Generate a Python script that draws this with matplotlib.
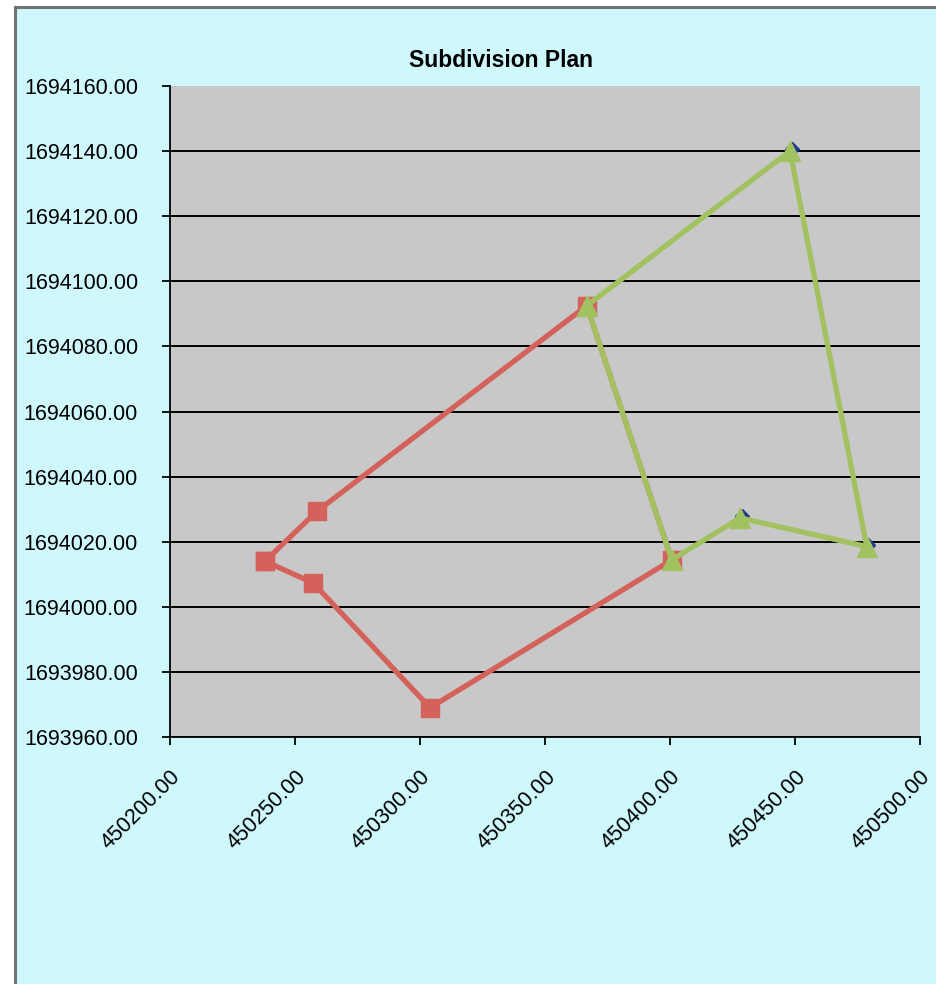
import matplotlib
matplotlib.use("Agg")
import matplotlib.pyplot as plt
from matplotlib.lines import Line2D
from matplotlib.patches import Rectangle
from matplotlib.transforms import ScaledTranslation

plt.rcParams['font.family'] = ['Liberation Sans', 'DejaVu Sans']

# lot 1 (red squares), closed polygon
lot1_x = [450238.0, 450258.7, 450366.7, 450400.7, 450304.0, 450257.3, 450238.0]
lot1_y = [1694014.0, 1694029.3, 1694092.5, 1694014.4, 1693969.0, 1694007.3, 1694014.0]

# lot 2 (green triangles), closed polygon
lot2_x = [450366.7, 450448.0, 450478.7, 450428.0, 450400.7, 450366.7]
lot2_y = [1694092.5, 1694140.0, 1694018.5, 1694027.3, 1694014.4, 1694092.5]

# hidden series mostly behind the green markers
base_x = [450448.6, 450428.6, 450479.3]
base_y = [1694140.6, 1694027.8, 1694019.0]

xticks = [450200, 450250, 450300, 450350, 450400, 450450, 450500]
yticks = [1693960, 1693980, 1694000, 1694020, 1694040, 1694060,
          1694080, 1694100, 1694120, 1694140, 1694160]

bg = '#CFF8FD'
fig = plt.figure(figsize=(9.36, 9.84), dpi=100, facecolor=bg)

# white margin and grey frame at top / left
fig.add_artist(Rectangle((0, 0), 14.5 / 936, 1, transform=fig.transFigure,
                         facecolor='white', edgecolor='none', zorder=0))
fig.add_artist(Rectangle((0, 1 - 7 / 984), 1, 7 / 984, transform=fig.transFigure,
                         facecolor='white', edgecolor='none', zorder=0))
fig.add_artist(Line2D([14.5 / 936, 1], [1 - 7 / 984, 1 - 7 / 984],
                      transform=fig.transFigure, color='#6E7474', lw=2.2))
fig.add_artist(Line2D([14.5 / 936, 14.5 / 936], [0, 1 - 7 / 984],
                      transform=fig.transFigure, color='#6E7474', lw=2.2))

ax = fig.add_axes([170 / 936, 1 - 737 / 984, 750 / 936, 651 / 984])
ax.set_facecolor('#C8C8C8')

ax.plot(base_x, base_y, linestyle='none', marker='D', markersize=7,
        color='#1F3C8C', zorder=2)
ax.plot(lot1_x, lot1_y, color='#D4625B', lw=3.8, marker='s', markersize=13,
        zorder=3)
ax.plot(lot2_x, lot2_y, color='#A2C262', lw=3.8, marker='^', markersize=14,
        zorder=4)

ax.set_xlim(450200, 450500)
ax.set_ylim(1693960, 1694160)
ax.set_xticks(xticks)
ax.set_yticks(yticks)
ax.set_xticklabels(['%.2f' % v for v in xticks], rotation=45, ha='right',
                   rotation_mode='anchor', fontsize=15.5)
ax.set_yticklabels(['%.2f' % v for v in yticks], fontsize=15.5)

# nudge rotated x labels so their ends sit at the ticks
shift = ScaledTranslation(-9 / 100, 0, fig.dpi_scale_trans)
for lbl in ax.get_xticklabels():
    lbl.set_transform(lbl.get_transform() + shift)

ax.yaxis.grid(True, color='black', lw=1.4)
ax.yaxis.get_gridlines()[-1].set_visible(False)
ax.set_axisbelow(True)

for s in ['top', 'right']:
    ax.spines[s].set_visible(False)
ax.spines['left'].set_linewidth(1.3)
ax.spines['bottom'].set_linewidth(1.3)
ax.tick_params(axis='both', direction='out', length=6, width=1.3)
ax.tick_params(axis='y', pad=17)
ax.tick_params(axis='x', pad=15)

ax.set_title('Subdivision Plan', fontsize=16.5, fontweight='bold', pad=14,
             x=(501 - 170) / 750)

fig.savefig('out.png', dpi=100, facecolor=bg)
